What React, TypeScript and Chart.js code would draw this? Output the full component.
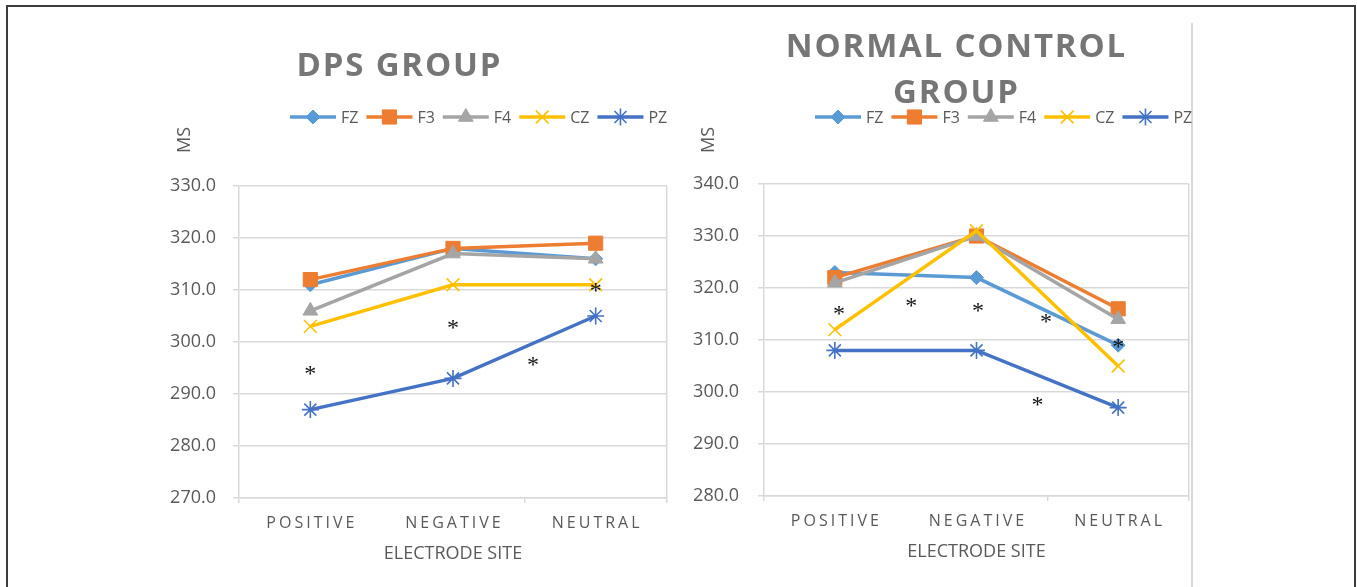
import React, { useEffect, useRef } from 'react';
import { Chart, registerables } from 'chart.js';
import { drawPoint } from 'chart.js/helpers';

Chart.register(...registerables);

// ---------- data ----------
const categories = ['POSITIVE', 'NEGATIVE', 'NEUTRAL'];
const seriesNames = ['FZ', 'F3', 'F4', 'CZ', 'PZ'];

const dpsFZ = [311, 318, 316];
const dpsF3 = [312, 318, 319];
const dpsF4 = [306, 317, 316];
const dpsCZ = [303, 311, 311];
const dpsPZ = [287, 293, 305];

const ncFZ = [323, 322, 309];
const ncF3 = [322, 330, 316];
const ncF4 = [321, 330, 314];
const ncCZ = [312, 331, 305];
const ncPZ = [308, 308, 297];

const dpsYTicks = [270, 280, 290, 300, 310, 320, 330];
const ncYTicks = [280, 290, 300, 310, 320, 330, 340];

// significance asterisks: category position (index, may be fractional) and value
const dpsStarPos = [0, 1, 1.56, 2];
const dpsStarVal = [294.5, 303.3, 296.3, 310.5];
const ncStarPos = [0.03, 0.54, 1.01, 1.49, 2.0, 1.43];
const ncStarVal = [315.6, 317.3, 316.3, 314.2, 309.4, 298.2];

const dpsTitle = ['DPS GROUP'];
const ncTitle = ['NORMAL CONTROL', 'GROUP'];
const yAxisTitle = 'MS';
const xAxisTitle = 'ELECTRODE SITE';

// ---------- styles ----------
const seriesColors = ['#5B9BD5', '#ED7D31', '#A5A5A5', '#FFC000', '#4472C4'];
const seriesMarkers = ['rectRot', 'rect', 'triangle', 'crossRot', 'star'];
const markerRadius = [7, 10, 8.5, 9, 8.5];
const markerBorder = [1, 1, 1, 1.6, 1.6];
const GRID = '#d9d9d9';
const TEXT = '#595959';
const TITLE = '#767676';
const FONT = '"Open Sans"';

type TitleLine = { text: string; x: number; y: number };
type PanelProps = {
  left: number;
  width: number;
  height: number;
  series: number[][];
  yTicks: number[];
  starPos: number[];
  starVal: number[];
  padding: { left: number; right: number; top: number; bottom: number };
  yWidth: number;
  xHeight: number;
  yLabelPad: number;
  titleLines: TitleLine[];
  legendX: number;
  legendY: number;
  msX: number;
  msY: number;
  xLabelY: number;
  axisTitleY: number;
};

function fillCentered(ctx: CanvasRenderingContext2D, text: string, x: number, cy: number, size: number, spacing: number) {
  (ctx as any).letterSpacing = spacing + 'px';
  ctx.textAlign = 'center';
  ctx.textBaseline = 'alphabetic';
  ctx.fillText(text, x + spacing / 2, cy + 0.357 * size);
  (ctx as any).letterSpacing = '0px';
}

function Panel(p: PanelProps) {
  const ref = useRef<HTMLCanvasElement | null>(null);
  useEffect(() => {
    let chart: Chart | null = null;
    let cancelled = false;
    const canvas = ref.current;
    if (!canvas) return;

    const overlay = {
      id: 'overlay',
      afterDraw(c: any) {
        const ctx: CanvasRenderingContext2D = c.ctx;
        const off = p.left;
        ctx.save();
        // titles
        ctx.fillStyle = TITLE;
        ctx.font = `bold 33px ${FONT}`;
        for (const t of p.titleLines) fillCentered(ctx, t.text, t.x - off, t.y, 33, 1.8);

        // legend
        let lx = p.legendX - off;
        const ly = p.legendY;
        ctx.font = `16px ${FONT}`;
        for (let i = 0; i < seriesNames.length; i++) {
          ctx.strokeStyle = seriesColors[i];
          ctx.lineWidth = 3.5;
          ctx.lineCap = 'butt';
          ctx.beginPath();
          ctx.moveTo(lx, ly);
          ctx.lineTo(lx + 46, ly);
          ctx.stroke();
          ctx.fillStyle = seriesColors[i];
          ctx.lineWidth = markerBorder[i];
          drawPoint(ctx, { pointStyle: seriesMarkers[i] as any, radius: markerRadius[i], rotation: 0, borderWidth: markerBorder[i] }, lx + 23, ly);
          ctx.fillStyle = TEXT;
          ctx.textAlign = 'left';
          ctx.textBaseline = 'alphabetic';
          ctx.fillText(seriesNames[i], lx + 51, ly + 0.357 * 16);
          lx += 51 + ctx.measureText(seriesNames[i]).width + 8;
        }

        // y axis title (rotated)
        ctx.fillStyle = TEXT;
        ctx.font = `18px ${FONT}`;
        ctx.save();
        ctx.translate(p.msX - off, p.msY);
        ctx.rotate(-Math.PI / 2);
        ctx.textAlign = 'center';
        ctx.textBaseline = 'alphabetic';
        ctx.fillText(yAxisTitle, 0, 0.357 * 18);
        ctx.restore();

        // category labels
        const xs = c.scales.x;
        const ys = c.scales.y;
        ctx.font = `16px ${FONT}`;
        ctx.fillStyle = TEXT;
        categories.forEach((lab, i) => {
          fillCentered(ctx, lab, xs.getPixelForValue(i), p.xLabelY, 16, 3);
        });

        // x axis title
        ctx.font = `18px ${FONT}`;
        const ca = c.chartArea;
        fillCentered(ctx, xAxisTitle, (ca.left + ca.right) / 2, p.axisTitleY, 18, 0);

        // asterisks
        ctx.fillStyle = '#111';
        ctx.font = `24px "Liberation Serif"`;
        ctx.textAlign = 'left';
        ctx.textBaseline = 'alphabetic';
        const m = ctx.measureText('*');
        for (let i = 0; i < p.starPos.length; i++) {
          const x = xs.getPixelForValue(p.starPos[i]);
          const y = ys.getPixelForValue(p.starVal[i]);
          const bx = x - (m.actualBoundingBoxRight - m.actualBoundingBoxLeft) / 2;
          const by = y + (m.actualBoundingBoxAscent - m.actualBoundingBoxDescent) / 2;
          ctx.fillText('*', bx, by);
        }
        ctx.restore();
      },
    };

    const yT = p.yTicks;
    const make = () => {
      if (cancelled) return;
      chart = new Chart(canvas, {
        type: 'line',
        data: {
          labels: categories,
          datasets: p.series.map((d, i) => ({
            label: seriesNames[i],
            data: d,
            borderColor: seriesColors[i],
            backgroundColor: seriesColors[i],
            borderWidth: 3.5,
            pointStyle: seriesMarkers[i] as any,
            pointRadius: markerRadius[i],
            pointHoverRadius: markerRadius[i],
            pointBackgroundColor: seriesColors[i],
            pointBorderColor: seriesColors[i],
            pointBorderWidth: markerBorder[i],
            tension: 0,
            fill: false,
            order: seriesNames.length - 1 - i,
          })),
        },
        options: {
          responsive: false,
          animation: false,
          devicePixelRatio: 1,
          layout: { padding: p.padding },
          plugins: {
            legend: { display: false },
            title: { display: false },
            tooltip: { enabled: false },
          },
          events: [],
          scales: {
            x: {
              type: 'category',
              offset: true,
              afterFit: (s: any) => {
                s.height = p.xHeight;
              },
              ticks: { display: false },
              grid: {
                offset: true,
                drawOnChartArea: true,
                color: (ctx: any) => (ctx.type === 'scale' ? GRID : 'transparent'),
                tickColor: (ctx: any) => (ctx.type === 'tick' && ctx.index === 1 ? 'transparent' : GRID),
                tickLength: 5,
                lineWidth: 1.5,
              },
              border: { display: true, color: GRID, width: 1.5 },
            },
            y: {
              min: yT[0],
              max: yT[yT.length - 1],
              afterBuildTicks: (s: any) => {
                s.ticks = yT.map((v) => ({ value: v }));
              },
              afterFit: (s: any) => {
                s.width = p.yWidth;
              },
              ticks: {
                callback: (v: any) => Number(v).toFixed(1),
                font: { family: 'Open Sans', size: 18 },
                color: TEXT,
                padding: p.yLabelPad,
              },
              grid: { color: GRID, lineWidth: 1.5, tickLength: 6, drawTicks: true },
              border: { display: true, color: GRID, width: 1.5 },
            },
          },
        } as any,
        plugins: [overlay],
      });
    };

    const fonts = (document as any).fonts;
    if (fonts && fonts.load) {
      Promise.all([
        fonts.load(`16px ${FONT}`),
        fonts.load(`bold 33px ${FONT}`),
        fonts.load(`24px "Liberation Serif"`),
      ])
        .catch(() => null)
        .then(make);
    } else {
      make();
    }
    return () => {
      cancelled = true;
      if (chart) chart.destroy();
    };
  }, []);

  return (
    <canvas
      ref={ref}
      width={p.width}
      height={p.height}
      style={{ position: 'absolute', left: p.left, top: 0, width: p.width, height: p.height }}
    />
  );
}

export default function App() {
  return (
    <div
      style={{
        position: 'absolute',
        left: 0,
        top: 0,
        width: 1357,
        height: 587,
        overflow: 'hidden',
        background: '#fff',
        fontFamily: 'Open Sans, sans-serif',
      }}
    >
      <div
        style={{
          position: 'absolute',
          left: 6,
          top: 5,
          width: 1350,
          height: 700,
          border: '2px solid #3c3c3c',
          boxSizing: 'border-box',
        }}
      />
      <div style={{ position: 'absolute', left: 1191, top: 23, width: 2, height: 600, background: GRID }} />
      <Panel
        left={0}
        width={680}
        height={587}
        series={[dpsFZ, dpsF3, dpsF4, dpsCZ, dpsPZ]}
        yTicks={dpsYTicks}
        starPos={dpsStarPos}
        starVal={dpsStarVal}
        padding={{ left: 159, right: 13, top: 186, bottom: 49 }}
        yWidth={80}
        xHeight={40}
        yLabelPad={17}
        titleLines={[{ text: dpsTitle[0], x: 398.5, y: 64 }]}
        legendX={290}
        legendY={117}
        msX={183.5}
        msY={140}
        xLabelY={522}
        axisTitleY={552.5}
      />
      <Panel
        left={680}
        width={520}
        height={587}
        series={[ncFZ, ncF3, ncF4, ncCZ, ncPZ]}
        yTicks={ncYTicks}
        starPos={ncStarPos}
        starVal={ncStarVal}
        padding={{ left: 4, right: 8, top: 184, bottom: 51 }}
        yWidth={80}
        xHeight={40}
        yLabelPad={19}
        titleLines={[
          { text: ncTitle[0], x: 955.5, y: 45 },
          { text: ncTitle[1], x: 955.5, y: 91 },
        ]}
        legendX={815}
        legendY={117}
        msX={708}
        msY={140}
        xLabelY={520}
        axisTitleY={550.5}
      />
    </div>
  );
}
